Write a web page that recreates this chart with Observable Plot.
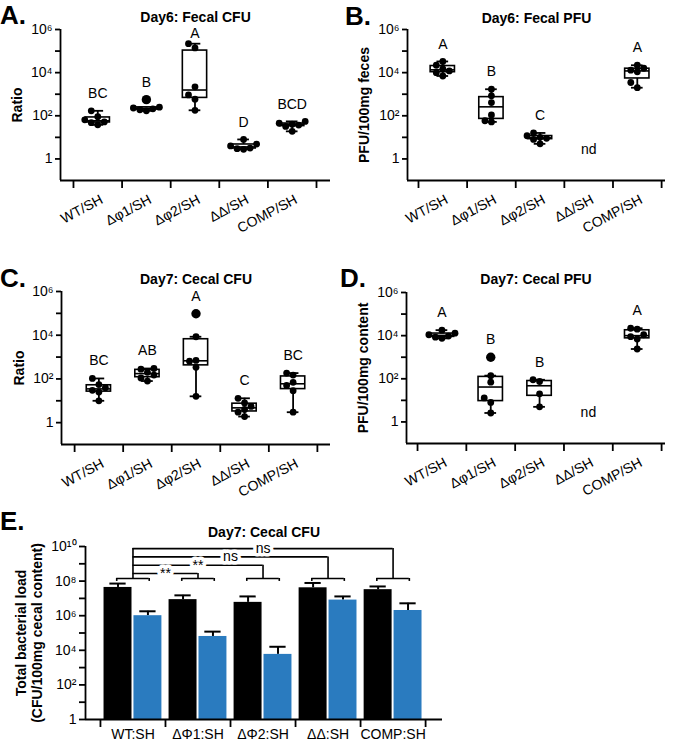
<!DOCTYPE html>
<html><head><meta charset="utf-8">
<script src="https://cdn.jsdelivr.net/npm/d3@7"></script>
<script src="https://cdn.jsdelivr.net/npm/@observablehq/plot@0.6"></script>
<style>
body{margin:0;background:#fff;}
#root{position:relative;width:675px;height:743px;overflow:hidden;font-family:"Liberation Sans",Arial,Helvetica,sans-serif;}
.panel{position:absolute;}
.tag{position:absolute;font-weight:bold;font-size:26px;line-height:1;color:#000;}
</style></head><body><div id="root"></div>
<script>
// ---------- data ----------
const groupsBox = ["WT/SH", "Δφ1/SH", "Δφ2/SH", "ΔΔ/SH", "COMP/SH"];

// A. Day6: Fecal CFU (ratio)
const fecalCFU6 = [[38, 48, 52, 65, 90, 170], [170, 190, 210, 230, 250], [180, 590, 930, 2200, 1.4e5, 2.2e5], [2.8, 3.0, 3.2, 4.0, 4.9, 8.0], [19, 32, 37, 40, 45, 55]];
const fecalCFU6Out = [[], [560], [], [], []];
const fecalCFU6Letters = ["BC", "B", "A", "D", "BCD"];

// B. Day6: Fecal PFU
const fecalPFU6 = [[7000, 1.0e4, 1.2e4, 1.5e4, 2.2e4, 3.3e4], [52, 59, 110, 410, 840, 1700], [5, 8, 9, 10, 12, 16], [], [2000, 3500, 1.1e4, 1.3e4, 1.6e4, 2.2e4]];
const fecalPFU6Out = [[], [], [], [], []];
const fecalPFU6Letters = ["A", "B", "C", "nd", "A"];

// C. Day7: Cecal CFU (ratio)
const cecalCFU7 = [[10, 25, 30, 40, 55, 105], [80, 110, 150, 200, 280, 300], [16, 340, 650, 700, 8500], [1.9, 3.0, 4.0, 5.5, 8, 13], [3, 29, 50, 70, 150, 185]];
const cecalCFU7Out = [[], [], [96000], [], []];
const cecalCFU7Letters = ["BC", "AB", "A", "C", "BC"];

// D. Day7: Cecal PFU
const cecalPFU7 = [[7500, 8500, 9500, 1.1e4, 1.3e4, 1.8e4], [2.6, 8, 13, 70, 140], [5, 20, 75, 90], [], [2400, 7000, 9000, 1.1e4, 2.0e4, 2.2e4]];
const cecalPFU7Out = [[], [1000], [], [], []];
const cecalPFU7Letters = ["A", "B", "B", "nd", "A"];

// E. Day7: Cecal CFU, total bacterial load
const groupsE = ["WT:SH", "ΔΦ1:SH", "ΔΦ2:SH", "ΔΔ:SH", "COMP:SH"];
const totalMean = [4.3e7, 8.5e6, 5.9e6, 4.1e7, 3.2e7];
const totalErrHi = [7.2e7, 1.5e7, 1.3e7, 7.8e7, 4.9e7];
const shMean = [1.0e6, 6.3e4, 5.8e3, 8.0e6, 2.0e6];
const shErrHi = [1.8e6, 1.2e5, 1.6e4, 1.3e7, 5.2e6];
const comparisons = [{to: 1, label: "**"}, {to: 2, label: "**"}, {to: 3, label: "ns"}, {to: 4, label: "ns"}];

// ---------- helpers ----------
const FONT = '"Liberation Sans", Arial, Helvetica, sans-serif';
const SUP = {"0":"⁰","1":"¹","2":"²","3":"³","4":"⁴","5":"⁵","6":"⁶","7":"⁷","8":"⁸","9":"⁹","-":"⁻"};
const sup = v => { const e = Math.round(Math.log10(v)); return e === 0 ? "1" : "10" + String(e).split("").map(c => SUP[c]).join(""); };
const root = document.getElementById("root");
function place(node, left, top) { node.classList.add("panel"); node.style.left = left + "px"; node.style.top = top + "px"; root.appendChild(node); }
function tag(t, left, top) { const d = document.createElement("div"); d.className = "tag"; d.textContent = t; d.style.left = left + "px"; d.style.top = top + "px"; root.appendChild(d); }

function boxPanel(cfg) {
  const {data, outs, letters, title, ylabel, W, H, ml, mr, mt, mb, xdom, titleDy, ylabDx} = cfg;
  const stats = [], pts = [], lab = [];
  data.forEach((vals, i) => {
    const all = vals.concat(outs[i]).sort(d3.ascending);
    if (!all.length) { lab.push({i, y: 2.6, t: letters[i]}); return; }
    stats.push({i, q1: d3.quantile(all, .25), med: d3.quantile(all, .5), q3: d3.quantile(all, .75), lo: d3.min(vals), hi: d3.max(vals)});
    lab.push({i, y: Math.min(d3.max(all) * Math.pow(10, 0.8), Math.pow(10, 5.8)), t: letters[i]});
    const placed = [];
    all.forEach(v => {
      const ly = Math.log10(v) * 21.7;
      let off = 0;
      for (const c of [0, -1, 1, -2, 2, -3, 3]) {
        const ox = c * 6.5;
        if (placed.every(p => Math.hypot(p.ox - ox, p.ly - ly) >= 6.5)) { off = ox; break; }
      }
      placed.push({ox: off, ly});
      pts.push({x: i + off / 48.6, y: v, out: outs[i].includes(v) && !vals.includes(v)});
    });
  });
  const SW = 1.8;
  return Plot.plot({
    width: W, height: H, marginLeft: ml, marginRight: mr, marginTop: mt, marginBottom: mb,
    x: {type: "linear", domain: xdom},
    y: {type: "log", domain: [0.1, 1e6]},
    style: {fontFamily: FONT, background: "white", color: "black"},
    marks: [
      Plot.ruleX(stats, {x: "i", y1: "lo", y2: "hi", strokeWidth: SW}),
      Plot.ruleY(stats, {y: "lo", x1: d => d.i - 0.12, x2: d => d.i + 0.12, strokeWidth: SW}),
      Plot.ruleY(stats, {y: "hi", x1: d => d.i - 0.12, x2: d => d.i + 0.12, strokeWidth: SW}),
      Plot.rect(stats, {x1: d => d.i - 0.25, x2: d => d.i + 0.25, y1: "q1", y2: "q3", fill: "white", stroke: "black", strokeWidth: 1.6}),
      Plot.ruleY(stats, {y: "med", x1: d => d.i - 0.25, x2: d => d.i + 0.25, strokeWidth: 1.6}),
      Plot.dot(pts.filter(d => !d.out), {x: "x", y: "y", r: 3.4, fill: "black", stroke: null}),
      Plot.dot(pts.filter(d => d.out), {x: "x", y: "y", r: 4.7, fill: "black", stroke: null}),
      Plot.text(lab, {x: "i", y: "y", text: "t", fontSize: 14, fill: "black"}),
      Plot.ruleX([xdom[0]], {strokeWidth: SW}),
      Plot.ruleY([0.1], {strokeWidth: SW}),
      Plot.axisY({ticks: [1, 1e2, 1e4, 1e6], tickFormat: sup, tickSize: 5, tickPadding: 3, fontSize: 14, strokeWidth: SW, label: null}),
      Plot.axisY({ticks: [10, 1e3, 1e5], tickFormat: () => "", tickSize: 5, strokeWidth: SW, label: null}),
      Plot.axisX({ticks: d3.range(-0.5, 5, 1), tickFormat: () => "", tickSize: 8, strokeWidth: SW, label: null}),
      Plot.text(groupsBox.map((g, i) => ({g, i})), {x: "i", frameAnchor: "bottom", text: "g", dx: 4, dy: 18, rotate: -28, textAnchor: "end", lineAnchor: "middle", fontSize: 14, fill: "black"}),
      Plot.text([ylabel], {frameAnchor: "left", text: d => d, dx: ylabDx, rotate: -90, textAnchor: "middle", lineAnchor: "middle", fontSize: 14, fontWeight: "bold", fill: "black"}),
      Plot.text([title], {frameAnchor: "top", text: d => d, dy: titleDy, textAnchor: "middle", lineAnchor: "middle", fontSize: 14, fontWeight: "bold", fill: "black"})
    ]
  });
}

place(boxPanel({data: fecalCFU6, outs: fecalCFU6Out, letters: fecalCFU6Letters, title: "Day6: Fecal CFU", ylabel: "Ratio",
  W: 335, H: 262, ml: 60, mr: 5, mt: 29, mb: 82, xdom: [-0.767, 4.788], titleDy: -12, ylabDx: -43}), 0, 0);
place(boxPanel({data: fecalPFU6, outs: fecalPFU6Out, letters: fecalPFU6Letters, title: "Day6: Fecal PFU", ylabel: "PFU/100mg feces",
  W: 340, H: 262, ml: 72, mr: 10, mt: 29, mb: 82, xdom: [-0.726, 4.58], titleDy: -11, ylabDx: -43}), 335, 0);
place(boxPanel({data: cecalCFU7, outs: cecalCFU7Out, letters: cecalCFU7Letters, title: "Day7: Cecal CFU", ylabel: "Ratio",
  W: 335, H: 243, ml: 61, mr: 5, mt: 29, mb: 61, xdom: [-0.77, 4.77], titleDy: -12, ylabDx: -42}), 0, 262);
place(boxPanel({data: cecalPFU7, outs: cecalPFU7Out, letters: cecalPFU7Letters, title: "Day7: Cecal PFU", ylabel: "PFU/100mg content",
  W: 340, H: 243, ml: 71, mr: 10, mt: 30, mb: 62, xdom: [-0.726, 4.58], titleDy: -13, ylabDx: -43}), 335, 262);

// ---------- panel E ----------
(function () {
  const rows = groupsE.map((g, i) => ({i, g, total: totalMean[i], totalHi: totalErrHi[i], sh: shMean[i], shHi: shErrHi[i]}));
  const BR = Math.pow(10, 8.15), BRlow = Math.pow(10, 7.98);
  const levels = comparisons.map((c, k) => ({...c, y: Math.pow(10, 8.44 + k * 0.48)}));
  const xdom = [-0.73, 4.76];
  const SW = 1.8, OFF = 0.23, HW = 0.215, CAP = 0.125;
  const blue = "#2a7bbf";
  const plot = Plot.plot({
    width: 675, height: 238, marginLeft: 85, marginRight: 233, marginTop: 41, marginBottom: 24,
    x: {type: "linear", domain: xdom},
    y: {type: "log", domain: [1, 1e10]},
    style: {fontFamily: FONT, background: "white", color: "black"},
    marks: [
      Plot.ruleX(rows, {x: d => d.i - OFF, y1: "total", y2: "totalHi", strokeWidth: 2}),
      Plot.ruleY(rows, {y: "totalHi", x1: d => d.i - OFF - CAP, x2: d => d.i - OFF + CAP, strokeWidth: 2}),
      Plot.ruleX(rows, {x: d => d.i + OFF, y1: "sh", y2: "shHi", strokeWidth: 2}),
      Plot.ruleY(rows, {y: "shHi", x1: d => d.i + OFF - CAP, x2: d => d.i + OFF + CAP, strokeWidth: 2}),
      Plot.rect(rows, {x1: d => d.i - OFF - HW, x2: d => d.i - OFF + HW, y1: 1, y2: "total", fill: "black"}),
      Plot.rect(rows, {x1: d => d.i + OFF - HW, x2: d => d.i + OFF + HW, y1: 1, y2: "sh", fill: blue}),
      // per-group brackets
      Plot.ruleY(rows, {y: BR, x1: d => d.i - 0.25, x2: d => d.i + 0.25, strokeWidth: 1.6}),
      Plot.ruleX(rows, {x: d => d.i - 0.25, y1: BRlow, y2: BR, strokeWidth: 1.6}),
      Plot.ruleX(rows, {x: d => d.i + 0.25, y1: BRlow, y2: BR, strokeWidth: 1.6}),
      // comparison lines
      Plot.ruleX([0], {x: d => d, y1: BR, y2: levels[levels.length - 1].y, strokeWidth: 1.6}),
      Plot.ruleY(levels, {y: "y", x1: 0, x2: "to", strokeWidth: 1.6}),
      Plot.ruleX(levels, {x: "to", y1: BR, y2: "y", strokeWidth: 1.6}),
      Plot.text(levels, {x: d => d.to / 2, y: "y", text: "label", fontSize: 14, fill: "black", stroke: "white", strokeWidth: 7, lineAnchor: "middle"}),
      // axes
      Plot.ruleX([xdom[0]], {strokeWidth: SW}),
      Plot.ruleY([1], {strokeWidth: SW}),
      Plot.axisY({ticks: [1, 1e2, 1e4, 1e6, 1e8, 1e10], tickFormat: sup, tickSize: 6, tickPadding: 3, fontSize: 14, strokeWidth: SW, label: null}),
      Plot.axisY({ticks: [10, 1e3, 1e5, 1e7, 1e9], tickFormat: () => "", tickSize: 6, strokeWidth: SW, label: null}),
      Plot.axisX({ticks: d3.range(-0.5, 5, 1), tickFormat: () => "", tickSize: 8, strokeWidth: SW, label: null}),
      Plot.text(rows, {x: "i", frameAnchor: "bottom", text: "g", dy: 15, lineAnchor: "middle", fontSize: 14, fill: "black"}),
      Plot.text(["Total bacterial load\n(CFU/100mg cecal content)"], {frameAnchor: "left", text: d => d, dx: -57, rotate: -90, textAnchor: "middle", lineAnchor: "middle", lineHeight: 1.15, fontSize: 14, fontWeight: "bold", fill: "black"}),
      Plot.text(["Day7: Cecal CFU"], {frameAnchor: "top", text: d => d, dy: -14, textAnchor: "middle", lineAnchor: "middle", fontSize: 14, fontWeight: "bold", fill: "black"})
    ]
  });
  place(plot, 0, 505);
})();

tag("A.", 0, 2);
tag("B.", 345, 3);
tag("C.", 0, 265);
tag("D.", 340, 265);
tag("E.", 0, 508);
</script>
</body></html>
